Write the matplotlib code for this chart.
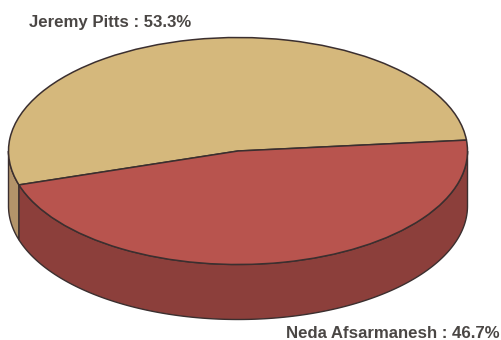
import numpy as np
import matplotlib
matplotlib.use("Agg")
import matplotlib.pyplot as plt

plt.rcParams["font.family"] = ["Liberation Sans", "DejaVu Sans"]

# Slices
names = ["Jeremy Pitts", "Neda Afsarmanesh"]
shares = [53.3, 46.7]
top_colors = ["#d5b87c", "#b8544e"]
side_colors = ["#b3946a", "#8c3f3b"]
edge = "#3b2f2f"

# Pie geometry in pixels
W, H = 502, 340
cx, cy = 238, 151
rx, ry = 229.5, 113.5
depth = 55
start = 5.5

fig = plt.figure(figsize=(W / 100, H / 100), dpi=100)
ax = fig.add_axes([0, 0, 1, 1])

# Side wall, only the front half of the rim is visible
drop = depth / ry
edges = start + np.cumsum([0] + shares) * 3.6
for i in range(len(shares)):
    a0 = max(edges[i], 180)
    a1 = min(edges[i + 1], 360)
    if a1 <= a0:
        continue
    t = np.radians(np.linspace(a0, a1, 200))
    x = np.cos(t)
    y = np.sin(t)
    ax.fill(
        np.r_[x, x[::-1]],
        np.r_[y, y[::-1] - drop],
        facecolor=side_colors[i],
        edgecolor=edge,
        linewidth=1.0,
        zorder=1,
    )

# Top face
ax.pie(
    shares,
    colors=top_colors,
    startangle=start,
    radius=1,
    wedgeprops={"edgecolor": edge, "linewidth": 1.1, "zorder": 2},
)

# pie() forces an equal aspect, squash it into the tilted ellipse
ax.set_aspect("auto")
ax.set_xlim(-cx / rx, (W - cx) / rx)
ax.set_ylim((cy - H) / ry, cy / ry)
ax.axis("off")

# Labels
fig.text(
    29 / W, 1 - 22 / H, f"{names[0]} : {shares[0]}%",
    fontsize=12.1, fontweight="bold", color="#4a4644", va="center", ha="left",
)
fig.text(
    500 / W, 1 - 333 / H, f"{names[1]} : {shares[1]}%",
    fontsize=12.1, fontweight="bold", color="#4a4644", va="center", ha="right",
)

fig.savefig("out.png", dpi=100, facecolor="white")
